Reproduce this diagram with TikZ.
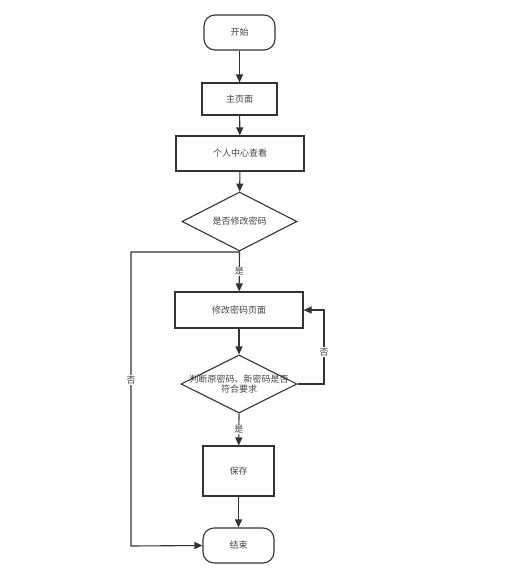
\documentclass[tikz,border=0pt]{standalone}
\usepackage{fontspec}
\newfontfamily\cjk{Noto Sans CJK SC}
\usetikzlibrary{shapes.geometric,arrows.meta}
\definecolor{ln}{HTML}{333333}
\definecolor{tx}{HTML}{444444}
\begin{document}
\begin{tikzpicture}[x=1pt,y=-1pt,
  every node/.style={font=\cjk\fontsize{9}{10.5}\selectfont, text=tx},
  base/.style={draw=ln, line width=1.1pt, inner sep=0pt},
  term/.style={base, rounded corners=11pt},
  proc/.style={base},
  dec/.style={base, diamond, inner sep=0pt},
  conn/.style={draw=ln, line width=1.1pt, -{Triangle[length=8pt,width=7pt]}},
  lbl/.style={fill=white, inner sep=1pt}]
\useasboundingbox (0,0) rectangle (506,579);
\node[term, minimum width=71pt, minimum height=35pt] (start) at (239.5,32.5) {开始};
\node[proc, minimum width=75pt, minimum height=32pt] (home) at (239.5,99) {主页面};
\node[proc, minimum width=128pt, minimum height=35pt] (center) at (240,153.5) {个人中心查看};
\node[dec, minimum width=115pt, minimum height=59pt, label={[align=center]center:是否修改密码}] (d1) at (239.5,221.5) {};
\node[proc, minimum width=128pt, minimum height=36pt] (page) at (239,310) {修改密码页面};
\node[dec, minimum width=116pt, minimum height=58pt, label={[align=center, inner sep=0pt]center:判断原密码、新密码是否\\符合要求}] (d2) at (239,384) {};
\node[proc, minimum width=71pt, minimum height=50pt] (save) at (238.5,471) {保存};
\node[term, minimum width=71pt, minimum height=35pt] (end) at (238.5,545.5) {结束};
\coordinate (l1) at (131,252);
\coordinate (l2) at (131,546);
\coordinate (r1) at (324,384);
\coordinate (r2) at (324,310);
\draw[conn] (start) -- (home);
\draw[conn] (home) -- (center);
\draw[conn] (center) -- (d1);
\draw[conn] (d1.south) -- node[lbl]{是} (page);
\draw[conn] (page) -- (d2);
\draw[conn] (d2.south) -- node[lbl]{是} (save);
\draw[conn] (save) -- (end);
\draw[conn] (d1.south) -- (d1.south |- l1) -- (l1) -- node[lbl, pos=0.435]{否} (l2) -- (end.west);
\draw[conn] (d2.east) -- (r1) -- node[lbl, pos=0.43]{否} (r2) -- (page.east);
\end{tikzpicture}
\end{document}
